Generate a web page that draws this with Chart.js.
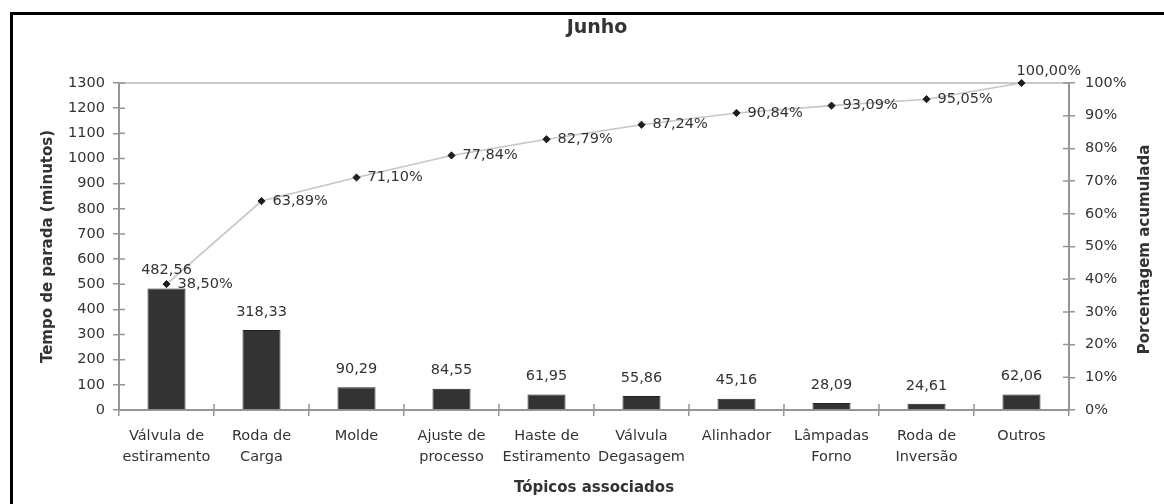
<!DOCTYPE html>
<html lang="pt">
<head>
<meta charset="utf-8">
<title>Junho – Tempo de parada</title>
<script src="https://cdn.jsdelivr.net/npm/chart.js@4.4.1/dist/chart.umd.min.js"></script>
<style>
  html, body { margin: 0; padding: 0; background: #fff; overflow: hidden; }
  #frame {
    position: absolute; left: 10px; top: 12px; width: 1300px; height: 700px;
    border-left: 3px solid #000; border-top: 3px solid #000; box-sizing: border-box;
  }
  #wrap { position: absolute; left: 0; top: 0; width: 1164px; height: 504px; }
  canvas { display: block; }
</style>
</head>
<body>
<div id="frame"></div>
<div id="wrap"><canvas id="chart" width="1164" height="504"></canvas></div>
<script>
// Tópicos associados (categorias do eixo X)
const categories = [
  ['Válvula de', 'estiramento'],
  ['Roda de', 'Carga'],
  ['Molde'],
  ['Ajuste de', 'processo'],
  ['Haste de', 'Estiramento'],
  ['Válvula', 'Degasagem'],
  ['Alinhador'],
  ['Lâmpadas', 'Forno'],
  ['Roda de', 'Inversão'],
  ['Outros']
];

// Tempo de parada por tópico (minutos)
const minutes = [482.56, 318.33, 90.29, 84.55, 61.95, 55.86, 45.16, 28.09, 24.61, 62.06];

// Porcentagem acumulada (%)
const cumulativePct = [38.50, 63.89, 71.10, 77.84, 82.79, 87.24, 90.84, 93.09, 95.05, 100.00];

// Escalas
const minutesMax = 1300;
const minutesStep = 100;
const pctMax = 100;
const pctStep = 10;

const rightAxisTitle = 'Porcentagem acumulada';

const fmt = v => v.toFixed(2).replace('.', ',');

Chart.defaults.font.family = '"DejaVu Sans", sans-serif';
Chart.defaults.color = '#333';

const AXIS_GREY = '#959595';

// Top border of the plot area and the inner half of each tick mark
const axisMarks = {
  id: 'axisMarks',
  beforeDatasetsDraw(chart) {
    const { ctx, chartArea: { left, right, top, bottom }, scales } = chart;
    ctx.save();
    ctx.lineWidth = 2;
    ctx.strokeStyle = '#c9c9c9';
    ctx.beginPath();
    ctx.moveTo(left, top);
    ctx.lineTo(right, top);
    ctx.stroke();

    ctx.strokeStyle = AXIS_GREY;
    ctx.lineWidth = 1.5;
    ctx.beginPath();
    scales.y.ticks.forEach(t => {
      const py = scales.y.getPixelForValue(t.value);
      ctx.moveTo(left, py); ctx.lineTo(left + 6, py);
    });
    scales.y1.ticks.forEach(t => {
      const py = scales.y1.getPixelForValue(t.value);
      ctx.moveTo(right - 6, py); ctx.lineTo(right, py);
    });
    const n = categories.length;
    for (let i = 1; i < n; i++) {
      const px = (scales.x.getPixelForValue(i - 1) + scales.x.getPixelForValue(i)) / 2;
      ctx.moveTo(px, bottom); ctx.lineTo(px, bottom - 6);
    }
    ctx.stroke();
    ctx.restore();
  }
};

// Right-hand axis title, read bottom to top like the left one
const rightTitle = {
  id: 'rightTitle',
  afterDraw(chart) {
    const { ctx, chartArea: { top, bottom }, scales } = chart;
    ctx.save();
    ctx.font = 'bold 15px "DejaVu Sans", sans-serif';
    ctx.fillStyle = '#333';
    ctx.textAlign = 'center';
    ctx.textBaseline = 'middle';
    ctx.translate(scales.y1.right - 19, (top + bottom) / 2 + 3);
    ctx.rotate(-Math.PI / 2);
    ctx.fillText(rightAxisTitle, 0, 0);
    ctx.restore();
  }
};

// Value labels above the bars and beside the cumulative points
const valueLabels = {
  id: 'valueLabels',
  afterDatasetsDraw(chart) {
    const { ctx, chartArea } = chart;
    ctx.save();
    ctx.font = '14.5px "DejaVu Sans", sans-serif';
    ctx.fillStyle = '#333';
    ctx.textBaseline = 'middle';

    const barMeta = chart.getDatasetMeta(1);
    ctx.textAlign = 'center';
    barMeta.data.forEach((bar, i) => {
      ctx.fillText(fmt(minutes[i]), bar.x, bar.y - 18);
    });

    const lineMeta = chart.getDatasetMeta(0);
    lineMeta.data.forEach((pt, i) => {
      const text = fmt(cumulativePct[i]) + '%';
      const w = ctx.measureText(text).width;
      ctx.textAlign = 'left';
      if (pt.x + 11 + w > chartArea.right) {
        ctx.fillText(text, pt.x - 5, pt.y - 12);
      } else {
        ctx.fillText(text, pt.x + 11, pt.y);
      }
    });
    ctx.restore();
  }
};

new Chart(document.getElementById('chart'), {
  type: 'bar',
  data: {
    labels: categories,
    datasets: [
      {
        type: 'line',
        label: 'Porcentagem acumulada',
        data: cumulativePct,
        yAxisID: 'y1',
        borderColor: '#c6c6c6',
        borderWidth: 1.6,
        tension: 0,
        pointStyle: 'rectRot',
        pointRadius: 3.6,
        pointBackgroundColor: '#1e1e1e',
        pointBorderColor: '#1e1e1e',
        pointBorderWidth: 1,
        clip: false,
        order: 0
      },
      {
        type: 'bar',
        label: 'Tempo de parada (minutos)',
        data: minutes,
        yAxisID: 'y',
        backgroundColor: '#333333',
        borderColor: '#222222',
        borderWidth: 1,
        barPercentage: 0.8,
        categoryPercentage: 0.5,
        order: 1
      }
    ]
  },
  options: {
    responsive: false,
    animation: false,
    events: [],
    layout: { padding: { top: 17, left: 30, right: 0, bottom: 0 } },
    plugins: {
      legend: { display: false },
      tooltip: { enabled: false },
      title: {
        display: true,
        text: 'Junho',
        color: '#333',
        font: { size: 19, weight: 'bold' },
        padding: { top: 0, bottom: 43.2 }
      }
    },
    scales: {
      x: {
        offset: true,
        grid: {
          offset: true, drawOnChartArea: false, drawTicks: true,
          tickLength: 6, color: AXIS_GREY, lineWidth: 1.5
        },
        border: { display: true, color: AXIS_GREY, width: 2 },
        ticks: {
          autoSkip: false, maxRotation: 0, minRotation: 0, color: '#333',
          font: { size: 14.5, lineHeight: 1.45 }, padding: 9.5
        },
        title: {
          display: true,
          text: 'Tópicos associados',
          color: '#333',
          font: { size: 15, weight: 'bold' },
          padding: { top: 0, bottom: 7 }
        },
        afterFit(scale) { scale.height = 94; }
      },
      y: {
        position: 'left',
        min: 0,
        max: minutesMax,
        ticks: {
          stepSize: minutesStep, color: '#333', font: { size: 14.5 }, padding: 8,
          callback: v => String(v)
        },
        grid: { drawOnChartArea: false, drawTicks: true, tickLength: 6, color: AXIS_GREY, lineWidth: 1.5 },
        border: { display: true, color: AXIS_GREY, width: 2 },
        title: {
          display: true,
          text: 'Tempo de parada (minutos)',
          color: '#333',
          font: { size: 15, weight: 'bold' },
          padding: { top: 9, bottom: 0 }
        },
        afterFit(scale) { scale.width = 89; }
      },
      y1: {
        position: 'right',
        min: 0,
        max: pctMax,
        ticks: {
          stepSize: pctStep, color: '#333', font: { size: 14.5 }, padding: 10,
          callback: v => v + '%'
        },
        grid: { drawOnChartArea: false, drawTicks: true, tickLength: 6, color: AXIS_GREY, lineWidth: 1.5 },
        border: { display: true, color: AXIS_GREY, width: 2 },
        title: { display: false },
        afterFit(scale) { scale.width = 95; }
      }
    }
  },
  plugins: [axisMarks, valueLabels, rightTitle]
});
</script>
</body>
</html>
